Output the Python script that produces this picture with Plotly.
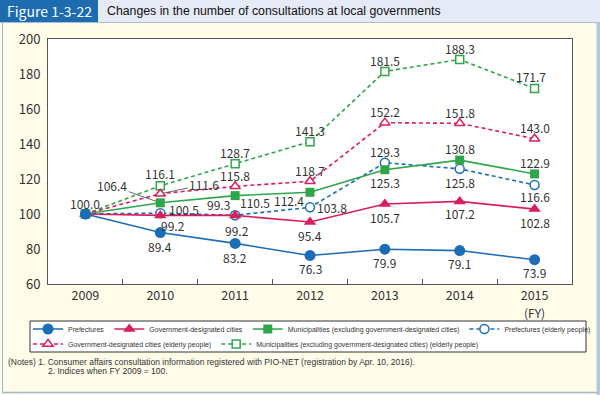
import plotly.graph_objects as go

# ---------------- data ----------------
years = ["2009", "2010", "2011", "2012", "2013", "2014", "2015"]
tick_text = ["2009", "2010", "2011", "2012", "2013", "2014", "2015"]
axis_unit = "(FY)"
prefectures = [100.0, 89.4, 83.2, 76.3, 79.9, 79.1, 73.9]
gov_cities = [100.0, 99.2, 99.2, 95.4, 105.7, 107.2, 102.8]
municipalities = [100.0, 106.4, 110.5, 112.4, 125.3, 130.8, 122.9]
pref_elderly = [100.0, 100.5, 99.3, 103.8, 129.3, 125.8, 116.6]
gov_elderly = [100.0, 111.6, 115.8, 118.7, 152.2, 151.8, 143.0]
muni_elderly = [100.0, 116.1, 128.7, 141.3, 181.5, 188.3, 171.7]
series_names = [
    "Prefectures",
    "Government-designated cities",
    "Municipalities (excluding government-designated cities)",
    "Prefectures (elderly people)",
    "Government-designated cities (elderly people)",
    "Municipalities (excluding government-designated cities) (elderly people)",
]
y_ticks = [60, 80, 100, 120, 140, 160, 180, 200]

# ---------------- styles ----------------
BLUE = "#1c6db5"
RED = "#d81f5d"
GREEN = "#2fa64a"
NUM_FONT = "Noto Sans CJK JP, Noto Sans, sans-serif"

W, H = 600, 395
L, R, T, B = 48, 28, 39, 111
PW, PH = W - L - R, H - T - B


def px(x):
    return (x - L) / PW


def py(y):
    return (H - B - y) / PH


series = [
    # values, name index, color, symbol, size, dash, filled, legendrank, legend
    (muni_elderly, 5, GREEN, "square", 8, "4px,3px", False, 6, "legend2"),
    (gov_elderly, 4, RED, "triangle-up", 9, "4px,3px", False, 5, "legend2"),
    (pref_elderly, 3, BLUE, "circle", 9, "4px,3px", False, 4, "legend"),
    (municipalities, 2, GREEN, "square", 9, "solid", True, 3, "legend"),
    (gov_cities, 1, RED, "triangle-up", 11, "solid", True, 2, "legend"),
    (prefectures, 0, BLUE, "circle", 11, "solid", True, 1, "legend"),
]

fig = go.Figure()
for vals, ni, col, sym, size, dash, filled, rank, leg in series:
    fig.add_trace(go.Scatter(
        x=years, y=vals, name=series_names[ni], mode="lines+markers",
        line=dict(color=col, width=1.6, dash=dash),
        marker=dict(symbol=sym, size=size,
                    color=col if filled else "white",
                    line=dict(color=col, width=0 if filled else 1.5)),
        legendrank=rank, legend=leg,
    ))

# label offsets (xshift, yshift) per point; None = no label
offsets = {
    "pref": (prefectures, [(0, 11), (0, -14), (0, -14), (0, -13), (0, -13), (0, -13), (0, -13)]),
    "gov": (gov_cities, [None, (13, -10), (2, -15), (0, -13), (0, -13), (0, -12), (0, -13)]),
    "muni": (municipalities, [None, "lead1", (20, -7), (-21, -8), (0, -13), (0, 12), (0, 11)]),
    "prefe": (pref_elderly, [None, (24, 4), (-17, 11), (22, 0), (0, 11), (0, -14), (0, -12)]),
    "gove": (gov_elderly, [None, "lead2", (0, 11), (0, 11), (0, 11), (0, 11), (0, 11)]),
    "munie": (muni_elderly, [None, (0, 12), (0, 11), (0, 11), (0, 11), (0, 11), (-4, 12)]),
}
leaders = {"lead1": (-48, -17), "lead2": (44, -9)}

LABEL_FONT = dict(family=NUM_FONT, size=12, color="#333")
annotations = []
for key, (vals, offs) in offsets.items():
    for i, off in enumerate(offs):
        if off is None:
            continue
        txt = f"{vals[i]:.1f}"
        if isinstance(off, str):
            ax, ay = leaders[off]
            annotations.append(dict(
                x=i, y=vals[i], text=txt, showarrow=True, arrowhead=0,
                arrowwidth=0.8, arrowcolor="#444", ax=ax, ay=ay, standoff=4,
                font=LABEL_FONT))
        else:
            annotations.append(dict(
                x=i, y=vals[i], text=txt, showarrow=False,
                xshift=off[0], yshift=off[1], font=LABEL_FONT))

# unit under last category
annotations.append(dict(
    x=len(years) - 1, xref="x", yref="paper", y=py(312.5), yanchor="middle",
    text=axis_unit, showarrow=False, font=dict(family=NUM_FONT, size=12, color="#333")))

NOTE_FONT = dict(family="Liberation Sans, Arial, sans-serif", size=8.5, color="#333")
annotations.append(dict(
    xref="paper", yref="paper", x=px(6), y=py(362), xanchor="left", yanchor="middle",
    text="(Notes) 1. Consumer affairs consultation information registered with PIO-NET (registration by Apr. 10, 2016).",
    showarrow=False, font=NOTE_FONT))
annotations.append(dict(
    xref="paper", yref="paper", x=px(46), y=py(371), xanchor="left", yanchor="middle",
    text="2. Indices when FY 2009 = 100.", showarrow=False, font=NOTE_FONT))
# title
annotations.append(dict(
    xref="paper", yref="paper", x=px(49), y=py(11.5), xanchor="center", yanchor="middle",
    text="Figure 1-3-22", showarrow=False,
    font=dict(family="Noto Sans CJK JP, sans-serif", size=14, color="white")))
annotations.append(dict(
    xref="paper", yref="paper", x=px(105), y=py(11.5), xanchor="left", yanchor="middle",
    text="Changes in the number of consultations at local governments", showarrow=False,
    font=dict(family="Liberation Sans, Arial, sans-serif", size=12.3, color="#111")))

shapes = [
    dict(type="rect", xref="paper", yref="paper", x0=px(0), x1=px(600), y0=py(0), y1=py(22.5),
         fillcolor="#e5eaf6", line=dict(width=0), layer="below"),
    dict(type="rect", xref="paper", yref="paper", x0=px(0), x1=px(98), y0=py(0), y1=py(22.5),
         fillcolor="#1d6cb0", line=dict(width=0), layer="below"),
    dict(type="line", xref="paper", yref="paper", x0=px(0), x1=px(600), y0=py(22.5), y1=py(22.5),
         line=dict(color="#a9c0d8", width=1), layer="below"),
    dict(type="line", xref="paper", yref="paper", x0=px(2.5), x1=px(2.5), y0=py(22.5), y1=py(393),
         line=dict(color="#9fb7cc", width=1), layer="below"),
    dict(type="rect", xref="paper", yref="paper", x0=px(596.5), x1=px(600), y0=py(22.5), y1=py(395),
         fillcolor="#b4c8d8", line=dict(width=0), layer="below"),
    dict(type="line", xref="paper", yref="paper", x0=px(2.5), x1=px(597), y0=py(392.5), y1=py(392.5),
         line=dict(color="#9fb7cc", width=1.5), layer="below"),
    # legend frame
    dict(type="rect", xref="paper", yref="paper", x0=px(30), x1=px(586), y0=py(321), y1=py(352),
         fillcolor="white", line=dict(color="#333", width=1), layer="below"),
]

LEG_FONT = dict(family="Liberation Sans, Arial, sans-serif", size=7, color="#333")
fig.update_layout(
    width=W, height=H,
    margin=dict(l=L, r=R, t=T, b=B, autoexpand=False),
    paper_bgcolor="#fffcea",
    plot_bgcolor="white",
    showlegend=True,
    legend=dict(
        orientation="h", x=px(28), y=py(329), xanchor="left", yanchor="middle",
        bgcolor="rgba(0,0,0,0)", borderwidth=0, font=LEG_FONT,
        itemwidth=30, tracegroupgap=0,
    ),
    legend2=dict(
        orientation="h", x=px(28), y=py(344), xanchor="left", yanchor="middle",
        bgcolor="rgba(0,0,0,0)", borderwidth=0, font=LEG_FONT,
        itemwidth=30, tracegroupgap=0,
    ),
    annotations=annotations,
    shapes=shapes,
    xaxis=dict(
        type="category", categoryorder="array", categoryarray=years,
        tickmode="array", tickvals=years, ticktext=tick_text,
        range=[-0.5, 6.5], tickson="boundaries", ticks="inside", ticklen=5,
        tickcolor="#555", showline=True, linecolor="#555", linewidth=1, mirror=True,
        showgrid=False, zeroline=False,
        tickfont=dict(family=NUM_FONT, size=12.5, color="#333"),
    ),
    yaxis=dict(
        range=[60, 200], tickvals=y_ticks, ticks="", showgrid=False, zeroline=False,
        showline=True, linecolor="#555", linewidth=1, mirror=True,
        tickfont=dict(family=NUM_FONT, size=13, color="#333"), ticklabelstandoff=4,
    ),
)

fig.write_html(
    "out.html",
    config={"displayModeBar": False},
    post_script="document.body.style.margin='0px';document.body.style.overflow='hidden';",
)
